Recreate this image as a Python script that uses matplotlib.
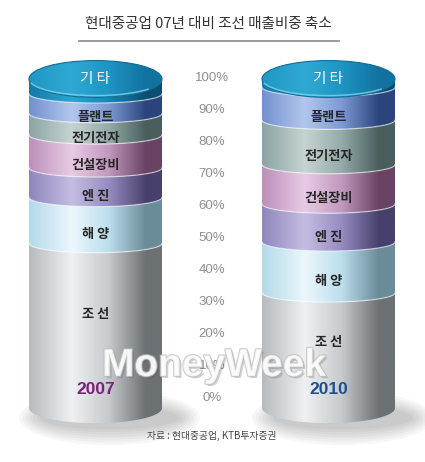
import numpy as np
import matplotlib
matplotlib.use('Agg')
import matplotlib.pyplot as plt
import matplotlib.patheffects as pe
from matplotlib.patches import Polygon, Ellipse
from matplotlib.colors import LinearSegmentedColormap

plt.rcParams['font.family'] = ['Noto Sans CJK KR', 'DejaVu Sans']

# Данные: доли выручки (%) по сегментам, снизу вверх
categories = ['조 선', '해 양', '엔 진', '건설장비', '전기전자', '플랜트', '기 타']
share_2007 = [50, 14, 9, 10, 6.5, 6, 4.5]
share_2010 = [35, 15.5, 11.5, 12, 13.5, 10, 2.5]
years = ['2007', '2010']
year_colors = ['#7b1f7b', '#1d4f91']
percent_ticks = list(range(0, 101, 10))

title = '현대중공업 07년 대비 조선 매출비중 축소'
source = '자료 : 현대중공업, KTB투자증권'

# Цвета сегментов: край, блик, середина, тень
band_colors = {
    '조 선': ['#b6bbbe', '#eff1f2', '#c6cacc', '#6c7174'],
    '해 양': ['#b3d9ea', '#ecf7fc', '#bcdeed', '#6a8c98'],
    '엔 진': ['#8f86bd', '#c5bde1', '#978cc2', '#48406c'],
    '건설장비': ['#bc8fba', '#e8cbe4', '#c198be', '#684364'],
    '전기전자': ['#8ba4a3', '#c6d4d2', '#94abaa', '#4a5e5e'],
    '플랜트': ['#7390cf', '#b3c7ed', '#7d9ad5', '#2b457c'],
    '기 타': ['#137aa7', '#2aa6d2', '#1687b5', '#0b4e70'],
}

W, H = 425, 462
PY0, SCALE = 408, 3.29        # пиксель значения 0 и пикселей на 1 %
A = 66.5                      # полуширина цилиндра, px
B_TOP, B_IN, B_BOT = 5.6, 2.8, 4.6
centers = [95.5, 328.5]

fig = plt.figure(figsize=(W / 100, H / 100), dpi=100)
ax = fig.add_axes([0, 0, 1, 1])
ax.axis('off')


def front_arc(cx, y, b, n=120):
    th = np.linspace(np.pi, 0, n)
    return cx + A * np.cos(th), y - b * np.sin(th)


def gradient_fill(cx, cols, path_patch, ymin, ymax, z):
    cmap = LinearSegmentedColormap.from_list(
        'c', list(zip([0, 0.32, 0.6, 0.88, 1.0], cols + [cols[3]])))
    img = cmap(np.linspace(0, 1, 256))[None, :, :]
    ax.add_patch(path_patch)
    im = ax.imshow(img, extent=[cx - A, cx + A, ymin, ymax], aspect='auto',
                   interpolation='bilinear', zorder=z)
    im.set_clip_path(path_patch)


for cx, shares, year, ycol in zip(centers, [share_2007, share_2010], years, year_colors):
    # тень под цилиндром
    for k in range(7):
        ax.add_patch(Ellipse((cx + 14, -3), 2 * A + 6 + k * 7, 7 + k * 1.6,
                             color='black', alpha=0.03, lw=0, zorder=1))

    tops = np.cumsum(shares)
    bottoms = tops - np.array(shares)
    n = len(shares)
    for i, (cat, y0, y1) in enumerate(zip(categories, bottoms, tops)):
        b0 = B_BOT if i == 0 else B_IN
        b1 = B_TOP if i == n - 1 else B_IN
        xu, yu = front_arc(cx, y1, b1)
        xl, yl = front_arc(cx, y0, b0)
        verts = np.column_stack([np.r_[xu, xl[::-1]], np.r_[yu, yl[::-1]]])
        poly = Polygon(verts, closed=True, facecolor='none', edgecolor='none')
        gradient_fill(cx, band_colors[cat], poly, y0 - b0, y1, 2)
        if i > 0:
            ax.plot(xl, yl, color='white', alpha=0.55, lw=0.9, zorder=3)

        if i == n - 1:
            continue
        # подписи сегментов
        if i == 0:
            ly = 0.57 * y1
        else:
            ly = (y0 + y1) / 2 - 4.2
        ax.text(cx, ly, cat, ha='center', va='center', fontsize=9.5,
                color='#262626', fontweight='bold', zorder=6)

    # верхняя крышка
    top = tops[-1]
    lid = Ellipse((cx, top), 2 * A, 2 * B_TOP, facecolor='none', edgecolor='none')
    gradient_fill(cx, ['#2097c4', '#2fa9d3', '#1e95c3', '#1272a0'], lid,
                  top - B_TOP, top + B_TOP, 4)
    ax.add_patch(Ellipse((cx, top), 2 * A, 2 * B_TOP, facecolor='none',
                         edgecolor='#0f6c96', lw=0.8, zorder=5))
    hx, hy = front_arc(cx, top, B_TOP * 0.9)
    ax.plot(hx[10:-25], hy[10:-25], color='#7fd3ec', lw=1.1, alpha=0.8, zorder=5)
    ax.text(cx, top, categories[-1], ha='center', va='center', fontsize=10.5,
            color='white', zorder=6)

    ax.text(cx, 5.5, year, ha='center', va='center', fontsize=12.5,
            fontweight='bold', color=ycol, family='Liberation Sans', zorder=6)

ax.set_xlim(0, W)
ax.set_ylim((PY0 - H) / SCALE, PY0 / SCALE)

# Ось процентов посередине
ax2 = fig.add_axes([0, 0, 1, 1])
ax2.patch.set_alpha(0)
ax2.axis('off')
ax2.set_xlim(0, W)
ax2.set_ylim((398 - H) / 3.2, 398 / 3.2)
for p in percent_ticks:
    ax2.text(212, p, f'{p}%', ha='center', va='center', fontsize=9.5,
             color='#8e8e8e', family='Liberation Sans')

# Заголовок с подчёркиванием
fig.text(208 / W, 1 - 24 / H, title, ha='center', va='center',
         fontsize=10.5, color='#333333')
ax.plot([79, 339], [(PY0 - 41) / SCALE] * 2, color='#8a8a8a', lw=1.2)

fig.text(212 / W, 1 - 436 / H, source, ha='center', va='center',
         fontsize=7, color='#444444')

# Водяной знак
fig.text(214 / W, 1 - 366 / H, 'MoneyWeek', ha='center', va='center',
         fontsize=28, fontweight='bold', family='Liberation Sans',
         color='white', alpha=0.75,
         path_effects=[pe.SimplePatchShadow(offset=(1.5, -1.5), alpha=0.25),
                       pe.Stroke(linewidth=1.5, foreground='#bdbdbd'),
                       pe.Normal()])

fig.savefig('out.png', dpi=100)
